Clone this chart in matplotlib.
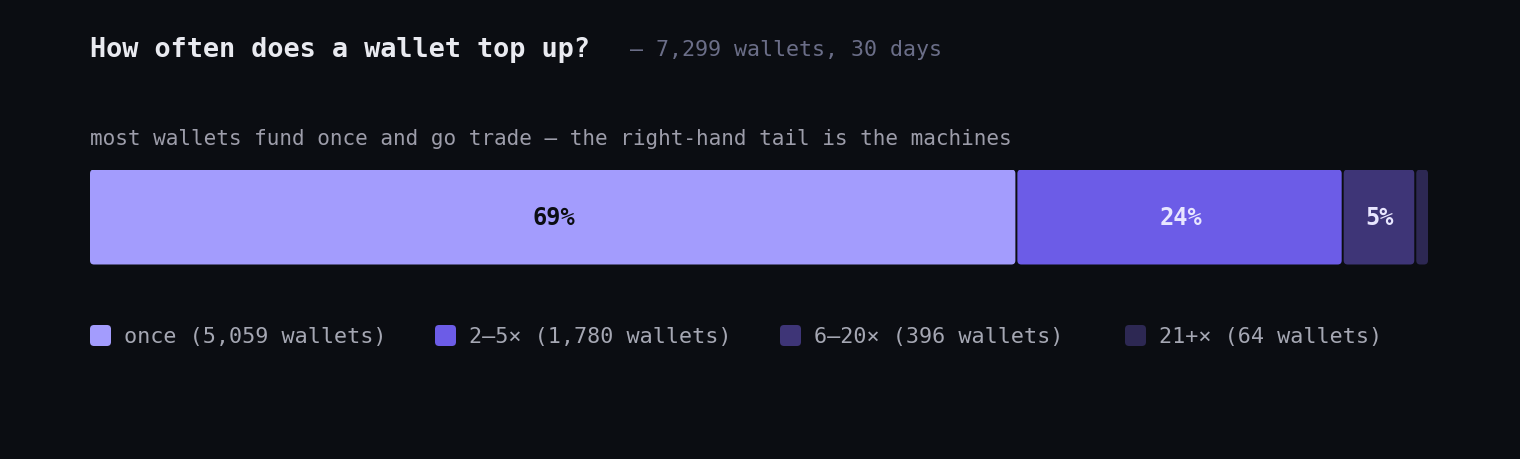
import matplotlib
matplotlib.use("Agg")
import matplotlib.pyplot as plt
from matplotlib.patches import FancyBboxPatch

# data
categories = ["once", "2\u20135\u00d7", "6\u201320\u00d7", "21+\u00d7"]
wallets = [5059, 1780, 396, 64]
colors = ["#a39cfd", "#6c5ce7", "#3e3577", "#2d2853"]
label_colors = ["#0b0d12", "#e8e6ff", "#e8e6ff", "#e8e6ff"]

title = "How often does a wallet top up?"
subtitle = "\u2014 7,299 wallets, 30 days"
note = "most wallets fund once and go trade \u2014 the right-hand tail is the machines"

BG = "#0b0d12"
W, H = 1520, 460
FONT = "DejaVu Sans Mono"

fig = plt.figure(figsize=(W / 100, H / 100), dpi=100, facecolor=BG)

def fx(px):
    return px / W

def fy(py):
    return 1 - py / H

# header texts
fig.text(fx(90), fy(57), title, family=FONT, fontweight="bold", fontsize=19.4,
         color="#e9eaf0", va="baseline")
fig.text(fx(630), fy(56), subtitle, family=FONT, fontsize=15.6,
         color="#6b6e88", va="baseline")
fig.text(fx(90), fy(145), note, family=FONT, fontsize=15.1,
         color="#9d9daa", va="baseline")

# stacked bar
total = sum(wallets)
bar_left, bar_w, bar_top, bar_h = 90, 1338, 170.5, 95
ax = fig.add_axes([fx(bar_left), fy(bar_top + bar_h), bar_w / W, bar_h / H])
ax.set_xlim(0, total)
ax.set_ylim(0, 1)
ax.axis("off")

ux = total / bar_w   # data units per pixel, x
uy = 1 / bar_h       # data units per pixel, y
radius = 4 * ux
gap = 2 * ux

left = 0
for i, (n, col, lc) in enumerate(zip(wallets, colors, label_colors)):
    w = n - gap if i < len(wallets) - 1 else n
    p = FancyBboxPatch((left, 0), w, 1,
                       boxstyle=f"round,pad=0,rounding_size={radius}",
                       mutation_aspect=uy / ux,
                       facecolor=col, edgecolor="none")
    ax.add_patch(p)
    pct = n / total * 100
    if pct >= 2:
        ax.text(left + n / 2, 0.5, f"{pct:.0f}%", family=FONT, fontweight="bold",
                fontsize=17, color=lc, ha="center", va="center")
    left += n

# legend
lax = fig.add_axes([0, 0, 1, 1])
lax.set_xlim(0, W)
lax.set_ylim(H, 0)
lax.axis("off")
for i, (cat, n, col) in enumerate(zip(categories, wallets, colors)):
    x0 = 90 + i * 345
    sq = FancyBboxPatch((x0, 326), 21, 21, boxstyle="round,pad=0,rounding_size=4",
                        facecolor=col, edgecolor="none")
    lax.add_patch(sq)
    lax.text(x0 + 34, 343, f"{cat} ({n:,} wallets)", family=FONT, fontsize=15.7,
             color="#a5a7b3", va="baseline")

fig.savefig("out.png", dpi=100, facecolor=BG)
